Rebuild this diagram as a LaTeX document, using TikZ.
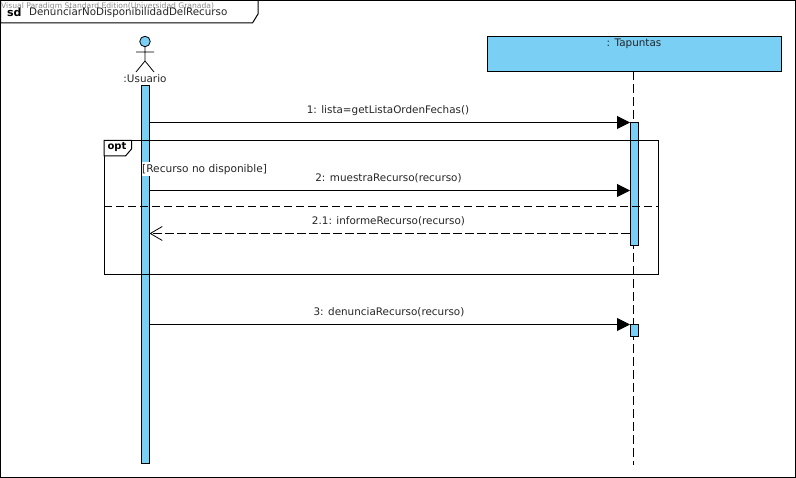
\documentclass[tikz,border=0pt]{standalone}
\usepackage{fontspec}
\setmainfont{DejaVu Sans}
\usetikzlibrary{arrows.meta}
\definecolor{vpblue}{HTML}{7ACFF5}
\tikzset{
  x=1pt,y=-1pt,
  frameline/.style={draw=black,line width=1pt},
  bar/.style={draw=black,fill=vpblue,line width=1pt},
  lifeline/.style={draw=black,line width=0.9pt,dash pattern=on 9pt off 4pt},
  msg/.style={draw=black,line width=1pt,-{Triangle[length=13pt,width=13pt]},shorten >=0pt},
  reply/.style={draw=black,line width=0.9pt,dash pattern=on 9pt off 3pt,-{Straight Barb[length=12pt,width=14pt,line width=0.8pt]}},
  label/.style={font=\fontsize{10.4}{12}\selectfont,text=black!85,inner sep=0pt,anchor=center},
}
\begin{document}
\begin{tikzpicture}
\useasboundingbox (0,0) rectangle (796,478);
\fill[white] (0,0) rectangle (796,478);
% outer frame
\draw[frameline] (0.5,0.5) rectangle (795.5,477.5);
\draw[frameline,fill=white] (0.5,0.5) -- (258,0.5) -- (258,14) -- (252.5,23) -- (0.5,23) -- cycle;
\node[font=\fontsize{7.6}{9}\selectfont,text=black!45,inner sep=0pt,anchor=west] (wm) at (1,6.5) {Visual Paradigm Standard Edition(Universidad Granada)};
\node[font=\bfseries\fontsize{11}{13}\selectfont,inner sep=0pt,anchor=west] (sd) at (7,12.5) {sd};
\node[font=\fontsize{10.3}{13}\selectfont,text=black!85,inner sep=0pt,anchor=west] (title) at (29,12.5) {DenunciarNoDisponibilidadDelRecurso};
% actor
\node[circle,draw=black,fill=vpblue,line width=0.8pt,minimum size=10.5pt,inner sep=0pt] (head) at (145,41.5) {};
\coordinate (hip) at (145,61);
\coordinate (armL) at (136,52);
\coordinate (armR) at (154,52);
\coordinate (legL) at (136,72);
\coordinate (legR) at (154,72);
\draw[black,line width=0.8pt] (head.south) -- (hip) (armL) -- (armR) (legL) -- (hip) -- (legR);
\node[label] (actor) at (145,78.5) {:Usuario};
% Tapuntas
\node[draw=black,fill=vpblue,line width=1pt,minimum width=294pt,minimum height=35pt,inner sep=0pt] (tap) at (634,54) {};
\node[label] (taplabel) at (634,43.5) {: Tapuntas};
\coordinate (lifeend) at (633.5,465);
\draw[lifeline] (633.5,71.5) -- (lifeend);
% left bar
\node[bar,minimum width=8pt,minimum height=378pt,inner sep=0pt] (barL) at (145.5,274.5) {};
% right bars
\node[bar,minimum width=8pt,minimum height=123pt,inner sep=0pt] (barR) at (634,184) {};
\node[bar,minimum width=8pt,minimum height=12pt,inner sep=0pt] (barS) at (634,330.5) {};
% opt frame
\draw[frameline] (104,140.5) rectangle (658.5,274.5);
\draw[frameline,fill=white] (104,140.5) -- (131.5,140.5) -- (131.5,149) -- (125.5,156) -- (104,156) -- cycle;
\node[font=\bfseries\fontsize{10}{12}\selectfont,inner sep=0pt,anchor=center] (opt) at (117,147.5) {opt};
\coordinate (sepL) at (104,206.5);
\coordinate (sepR) at (658.5,206.5);
\draw[draw=black,line width=0.9pt,dash pattern=on 8pt off 4pt] (sepL) -- (sepR);
% guard
\node[font=\fontsize{10.6}{12}\selectfont,text=black!85,fill=white,inner xsep=0pt,inner ysep=1.5pt,anchor=west,minimum height=14pt] (guard) at (142,169.5) {[Recurso no disponible]};
% messages
\coordinate (m1s) at (149.5,122.5);
\coordinate (m1e) at (630,122.5);
\coordinate (m2s) at (149.5,190.5);
\coordinate (m2e) at (630,190.5);
\coordinate (m3s) at (630,233.5);
\coordinate (m3e) at (149.5,233.5);
\coordinate (m4s) at (149.5,324.5);
\coordinate (m4e) at (630,324.5);
\draw[msg] (m1s) -- (m1e);
\draw[msg] (m2s) -- (m2e);
\draw[reply] (m3s) -- (m3e);
\draw[msg] (m4s) -- (m4e);
\node[label] (l1) at (388,110.5) {1: lista=getListaOrdenFechas()};
\node[label] (l2) at (388.5,178.5) {2: muestraRecurso(recurso)};
\node[label] (l3) at (388.5,221.5) {2.1: informeRecurso(recurso)};
\node[label] (l4) at (389,312.5) {3: denunciaRecurso(recurso)};
\end{tikzpicture}
\end{document}
